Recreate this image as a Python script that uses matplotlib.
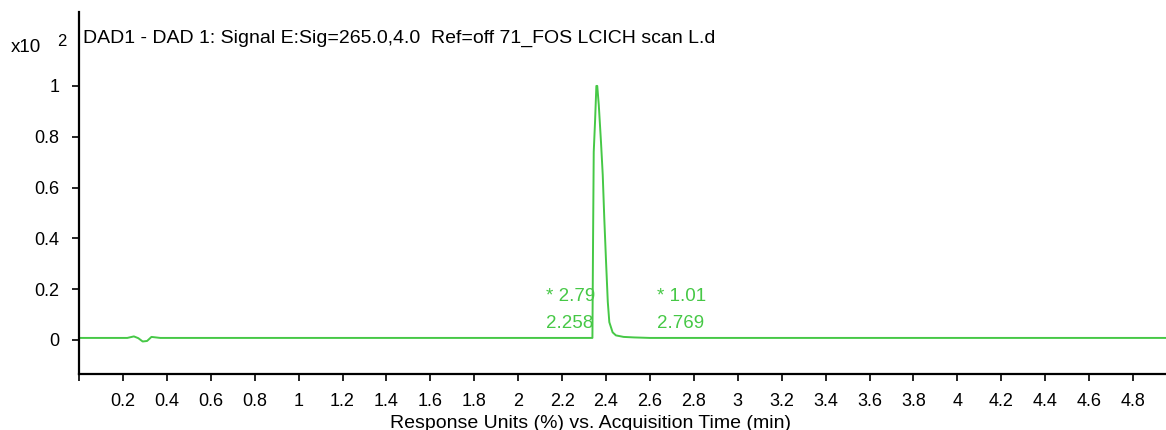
import numpy as np
import matplotlib.pyplot as plt

plt.rcParams['font.family'] = ['Liberation Sans', 'DejaVu Sans']

# trace (time in min, response x10^2)
time = [0.0, 0.22, 0.25, 0.27, 0.29, 0.31, 0.33, 0.35, 0.37, 1.2, 2.0, 2.3,
        2.338, 2.341, 2.344, 2.350, 2.356, 2.360, 2.367, 2.377, 2.385, 2.392,
        2.400, 2.408, 2.415, 2.430, 2.445, 2.48, 2.527, 2.6, 3.5, 4.95]
resp = [0.008, 0.008, 0.014, 0.007, -0.006, -0.004, 0.012, 0.010, 0.008,
        0.008, 0.008, 0.008, 0.008, 0.40, 0.74, 0.86, 1.0, 1.0, 0.925, 0.78,
        0.65, 0.48, 0.31, 0.15, 0.07, 0.03, 0.018, 0.012, 0.010, 0.008, 0.008,
        0.008]

peak_lbl_x = [2.127, 2.632]
peak_top = ['* 2.79', '* 1.01']
peak_bot = ['2.258', '2.769']

xticks = [round(0.2 * i, 1) for i in range(25)]
xlabels = ['' if t == 0 else ('%g' % t) for t in xticks]
yticks = [0, 0.2, 0.4, 0.6, 0.8, 1]

green = '#46c846'

fig = plt.figure(figsize=(11.66, 4.30), dpi=100)
ax = fig.add_axes([79 / 1166, 56 / 430, 1 - 79 / 1166, 362 / 430])
ax.plot(time, resp, color=green, lw=1.4)

for x, t, b in zip(peak_lbl_x, peak_top, peak_bot):
    ax.text(x, 0.173, t, color=green, fontsize=13.5, ha='left', va='center')
    ax.text(x, 0.063, b, color=green, fontsize=13.5, ha='left', va='center')

ax.set_xlim(0, 4.95)
ax.set_ylim(-0.134, 1.291)
ax.set_xticks(xticks)
ax.set_xticklabels(xlabels)
ax.set_yticks(yticks)
ax.set_yticklabels(['%g' % t for t in yticks])
ax.tick_params(labelsize=13, direction='out', length=5, width=1.2)
ax.tick_params(axis='x', pad=9)
ax.tick_params(axis='y', pad=9)
for s in ['top', 'right']:
    ax.spines[s].set_visible(False)
for s in ['left', 'bottom']:
    ax.spines[s].set_linewidth(1.6)

ax.set_xlabel('Response Units (%) vs. Acquisition Time (min)', fontsize=14)
ax.xaxis.set_label_coords(0.471, -0.137)
ax.xaxis.label.set_va('center')
ax.text(0.004, 0.928, 'DAD1 - DAD 1: Signal E:Sig=265.0,4.0  Ref=off 71_FOS LCICH scan L.d',
        transform=ax.transAxes, fontsize=14, va='center')
fig.text(11 / 1166, 1 - 47 / 430, 'x10', fontsize=13.5, va='center')
fig.text(57 / 1166, 1 - 42 / 430, '2', fontsize=12, va='center')

fig.savefig('out.png', dpi=100)
